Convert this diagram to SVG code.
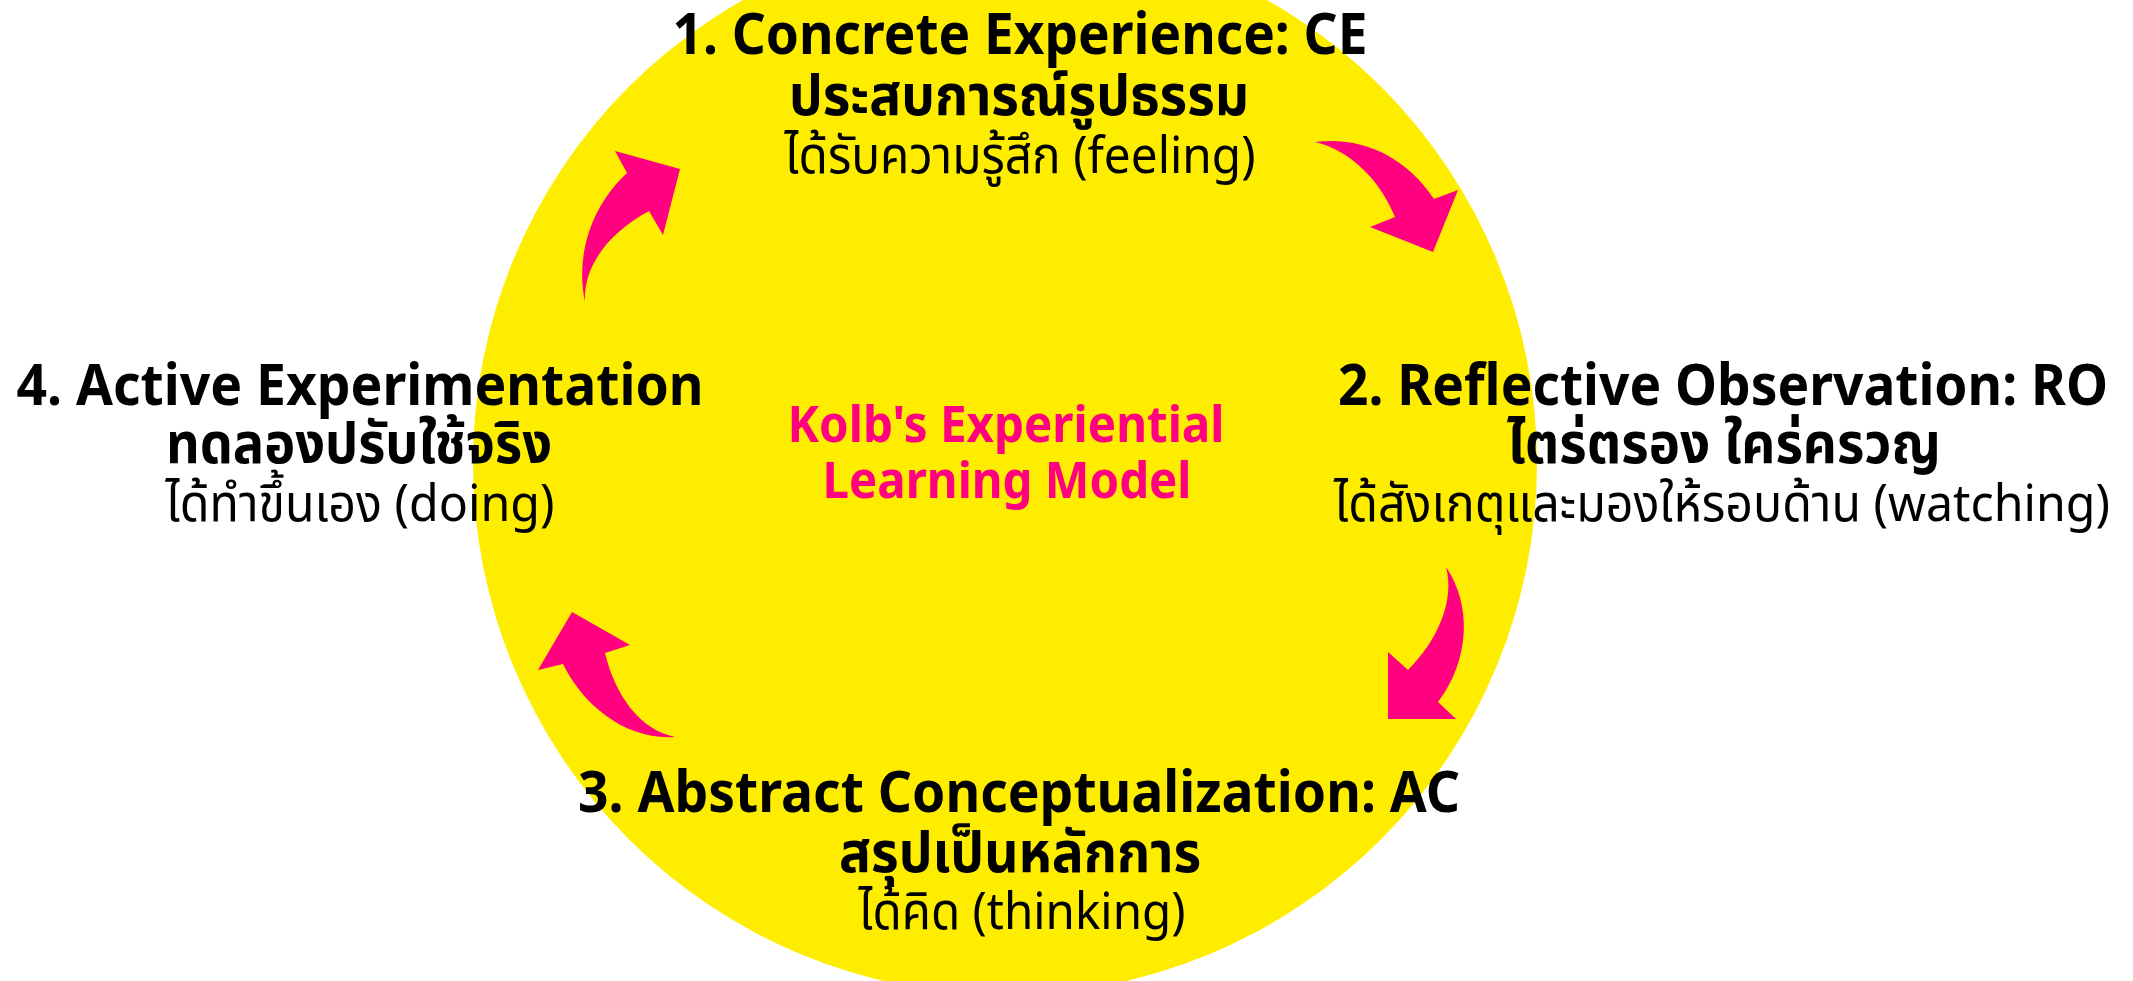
<svg xmlns="http://www.w3.org/2000/svg" width="2133" height="981" viewBox="0 0 2133 981">
<style>
.b{font-family:"Noto Sans","Noto Sans Thai","Noto Sans Thai UI",sans-serif;font-weight:700;font-size:57px;fill:#000;text-anchor:middle}
.r{font-family:"Noto Sans","Noto Sans Thai","Noto Sans Thai UI",sans-serif;font-weight:400;font-size:51px;fill:#000;text-anchor:middle}
.t{font-family:"Noto Sans","Noto Sans Thai",sans-serif;font-weight:700;font-size:50px;fill:#FF0080;text-anchor:middle}
.arrow{fill:#FF0080}
</style>
<rect width="2133" height="981" fill="#fff"/>
<circle id="bg" cx="1005" cy="463" r="532" fill="#FFED00"/>
<g id="connectors">
<path class="arrow" d="M1315,142 C1360,136 1405,155 1434,199 L1458,190 L1433,252 L1370,227 L1395,217 C1380,180 1350,150 1315,142 Z"/>
<path class="arrow" d="M1446,567 C1472,605 1470,660 1438,702 L1456,719 L1388,719 L1388,652 L1408,670 C1438,640 1455,600 1446,567 Z"/>
<path class="arrow" d="M572,612 L630,645 L605,653 C615,695 640,730 675,737 C625,740 583,705 563,664 L538,670 Z"/>
<path class="arrow" d="M585,302 C575,255 592,205 627,173 L615,151 L680,169 L663,235 L649,211 C610,232 583,265 585,302 Z"/>
</g>
<g id="title">
<text class="t" x="1006" y="442" textLength="437" lengthAdjust="spacingAndGlyphs">Kolb's Experiential</text>
<text class="t" x="1007" y="498" textLength="369" lengthAdjust="spacingAndGlyphs">Learning Model</text>
</g>
<g id="ce">
<text class="b" x="1020" y="54" textLength="695" lengthAdjust="spacingAndGlyphs">1. Concrete Experience: CE</text>
<text class="b" x="1019" y="115" textLength="460" lengthAdjust="spacingAndGlyphs">ประสบการณ์รูปธรรม</text>
<text class="r" x="1020" y="173" textLength="471" lengthAdjust="spacingAndGlyphs">ได้รับความรู้สึก (feeling)</text>
</g>
<g id="ro">
<text class="b" x="1723" y="405" textLength="770" lengthAdjust="spacingAndGlyphs">2. Reflective Observation: RO</text>
<text class="b" x="1724" y="463" textLength="434" lengthAdjust="spacingAndGlyphs">ไตร่ตรอง ใคร่ครวญ</text>
<text class="r" x="1722" y="521" textLength="776" lengthAdjust="spacingAndGlyphs">ได้สังเกตุและมองให้รอบด้าน (watching)</text>
</g>
<g id="ac">
<text class="b" x="1019" y="812" textLength="882" lengthAdjust="spacingAndGlyphs">3. Abstract Conceptualization: AC</text>
<text class="b" x="1020" y="872" textLength="362" lengthAdjust="spacingAndGlyphs">สรุปเป็นหลักการ</text>
<text class="r" x="1022" y="929" textLength="327" lengthAdjust="spacingAndGlyphs">ได้คิด (thinking)</text>
</g>
<g id="ae">
<text class="b" x="360" y="405" textLength="687" lengthAdjust="spacingAndGlyphs">4. Active Experimentation</text>
<text class="b" x="359" y="463" textLength="386" lengthAdjust="spacingAndGlyphs">ทดลองปรับใช้จริง</text>
<text class="r" x="360" y="521" textLength="389" lengthAdjust="spacingAndGlyphs">ได้ทำขึ้นเอง (doing)</text>
</g>
</svg>
